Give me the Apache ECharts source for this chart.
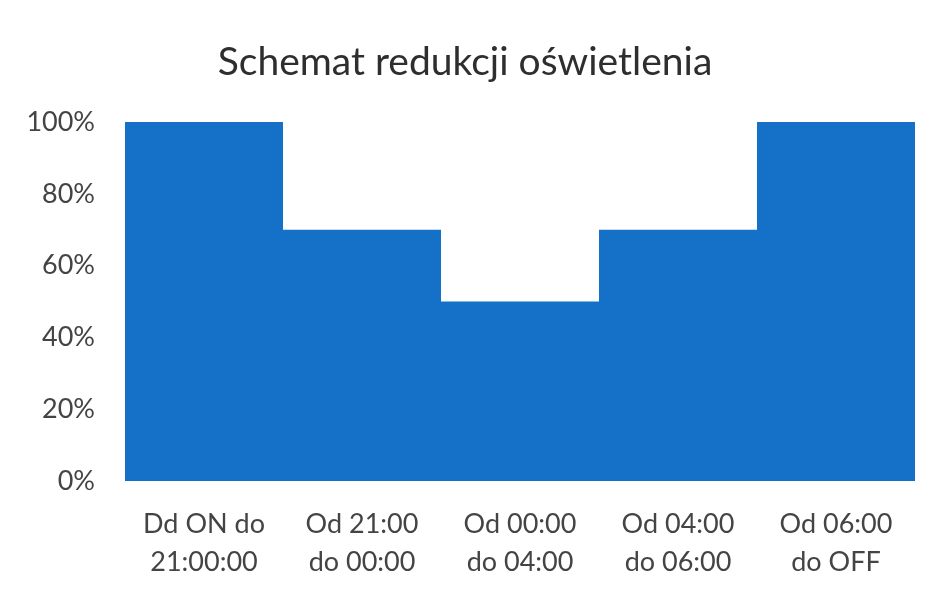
<!DOCTYPE html>
<html><head><meta charset="utf-8">
<script src="https://cdn.jsdelivr.net/npm/echarts@6/dist/echarts.min.js"></script>
<style>html,body{margin:0;padding:0;background:#fff}#c{width:930px;height:589px}</style>
</head><body><div id="c"></div>
<script>
const title = 'Schemat redukcji oświetlenia';
const categories = ['Dd ON do\n21:00:00', 'Od 21:00\ndo 00:00', 'Od 00:00\ndo 04:00', 'Od 04:00\ndo 06:00', 'Od 06:00\ndo OFF'];
const values = [1.0, 0.7, 0.5, 0.7, 1.0];
const yTicks = [0, 0.2, 0.4, 0.6, 0.8, 1.0];

const chart = echarts.init(document.getElementById('c'));
chart.setOption({
  animation: false,
  title: {
    text: title, left: 'center', top: 38,
    textStyle: { fontFamily: 'Lato', fontSize: 39, fontWeight: 'normal', color: '#2e2e2e' }
  },
  grid: { left: 125, right: 15, top: 122, bottom: 108 },
  xAxis: {
    type: 'category', data: categories,
    axisLine: { show: false }, axisTick: { show: false },
    axisLabel: { interval: 0, fontFamily: 'Lato', fontSize: 27, color: '#444', lineHeight: 38, margin: 24 }
  },
  yAxis: {
    type: 'value', min: yTicks[0], max: yTicks[yTicks.length - 1], interval: 0.2,
    splitLine: { show: false }, axisLine: { show: false }, axisTick: { show: false },
    axisLabel: { fontFamily: 'Lato', fontSize: 27, color: '#444', margin: 30,
      formatter: v => Math.round(v * 100) + '%' }
  },
  series: [{
    type: 'bar', data: values, barCategoryGap: '0%',
    itemStyle: { color: '#1570c8' }
  }]
});
</script></body></html>
